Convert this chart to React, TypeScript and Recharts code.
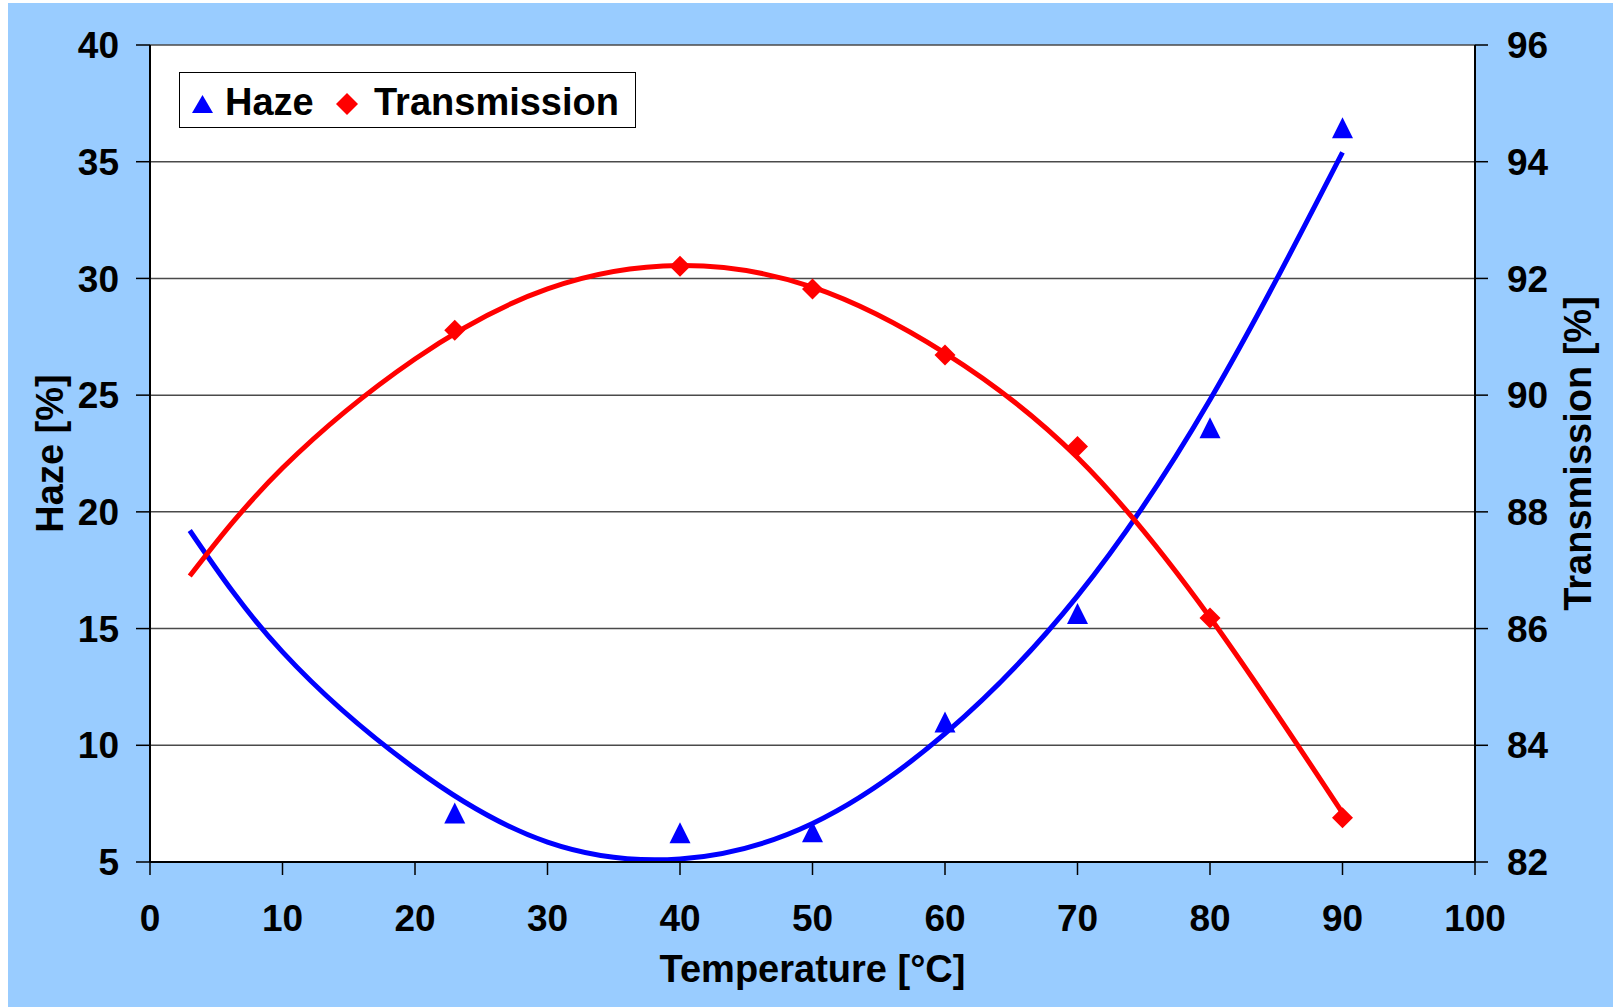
import React from 'react';
import { ComposedChart, Line, Scatter, XAxis, YAxis, CartesianGrid, Legend, Label } from 'recharts';

// measured points
const temperature = [23, 40, 50, 60, 70, 80, 90];
const hazeValues = [7.1, 6.25, 6.3, 11.0, 15.65, 23.6, 36.45];
const transmissionValues = [91.11, 92.21, 91.82, 90.69, 89.12, 86.18, 82.76];

// trend lines
const fitT = [3, 10, 20, 30, 40, 50, 60, 70, 80, 90];
const hazeFit = [19.2, 14.0, 9.0, 5.85, 5.13, 6.65, 10.5, 16.4, 24.8, 35.4];
const transFit = [86.9, 88.75, 90.62, 91.82, 92.22, 91.85, 90.72, 88.93, 86.19, 82.84];

const xTicks = [0, 10, 20, 30, 40, 50, 60, 70, 80, 90, 100];
const hazeTicks = [5, 10, 15, 20, 25, 30, 35, 40];
const transTicks = [82, 84, 86, 88, 90, 92, 94, 96];

const FONT = '"Liberation Sans", Arial, sans-serif';
const BLUE = '#0000FF';
const RED = '#FF0000';

const hazePoints = temperature.map((t, i) => ({ t, haze: hazeValues[i] }));
const transPoints = temperature.map((t, i) => ({ t, trans: transmissionValues[i] }));
const hazeLine = fitT.map((t, i) => ({ t, haze: hazeFit[i] }));
const transLine = fitT.map((t, i) => ({ t, trans: transFit[i] }));

const Triangle = (props: any) => {
    const { cx, cy } = props;
    if (cx == null || cy == null) return null;
    return (
        <polygon
            points={`${cx},${cy - 10.5} ${cx + 10.5},${cy + 10.5} ${cx - 10.5},${cy + 10.5}`}
            fill={BLUE}
        />
    );
};

const Diamond = (props: any) => {
    const { cx, cy } = props;
    if (cx == null || cy == null) return null;
    return (
        <polygon
            points={`${cx},${cy - 10.5} ${cx + 10.5},${cy} ${cx},${cy + 10.5} ${cx - 10.5},${cy}`}
            fill={RED}
        />
    );
};

const LegendBox = () => (
    <svg width={457} height={56} style={{ display: 'block' }}>
        <rect x={0.5} y={0.5} width={456} height={55} fill="#fff" stroke="#000" strokeWidth={1} />
        <polygon points="23.5,23 34,41 13,41" fill={BLUE} />
        <text x={46} y={43} fontFamily={FONT} fontWeight={700} fontSize={38} fill="#000">Haze</text>
        <polygon points="168,21 179,32 168,43 157,32" fill={RED} />
        <text x={195} y={43} fontFamily={FONT} fontWeight={700} fontSize={38} fill="#000">Transmission</text>
    </svg>
);

const tickStyle = { fill: '#000', fontSize: 37, fontWeight: 700, fontFamily: FONT };
const titleStyle = { fill: '#000', fontSize: 38, fontWeight: 700, fontFamily: FONT, textAnchor: 'middle' as const };

export default function App() {
    return (
        <div style={{ position: 'absolute', left: 0, top: 0, width: 1613, height: 1007, background: '#fff' }}>
            <div style={{ position: 'absolute', left: 8, top: 3, width: 1605, height: 1004, background: '#99CCFF' }}>
                <ComposedChart
                    width={1605}
                    height={1004}
                    margin={{ top: 42, right: 0, bottom: 85, left: 0 }}
                >
                    <CartesianGrid
                        yAxisId="haze"
                        vertical={false}
                        stroke="#4a4a4a"
                        strokeWidth={1.5}
                        fill="#fff"
                    />
                    <XAxis
                        dataKey="t"
                        type="number"
                        domain={[0, 100]}
                        ticks={xTicks}
                        height={60}
                        tickSize={13}
                        tickMargin={30}
                        tick={tickStyle}
                        axisLine={{ stroke: '#000', strokeWidth: 2 }}
                        tickLine={{ stroke: '#000', strokeWidth: 1.5 }}
                    >
                        <Label value="Temperature [°C]" position="bottom" offset={33} style={titleStyle} />
                    </XAxis>
                    <YAxis
                        yAxisId="haze"
                        orientation="left"
                        type="number"
                        domain={[5, 40]}
                        ticks={hazeTicks}
                        width={142}
                        tickSize={14}
                        tickMargin={17}
                        tick={tickStyle}
                        axisLine={{ stroke: '#000', strokeWidth: 2 }}
                        tickLine={{ stroke: '#000', strokeWidth: 1.5 }}
                    >
                        <Label value="Haze [%]" angle={-90} position="insideLeft" offset={42} style={titleStyle} />
                    </YAxis>
                    <YAxis
                        yAxisId="trans"
                        orientation="right"
                        type="number"
                        domain={[82, 96]}
                        ticks={transTicks}
                        width={138}
                        tickSize={13}
                        tickMargin={19}
                        tick={tickStyle}
                        axisLine={{ stroke: '#000', strokeWidth: 2 }}
                        tickLine={{ stroke: '#000', strokeWidth: 1.5 }}
                    >
                        <Label value="Transmission [%]" angle={-90} position="insideRight" offset={35} style={titleStyle} />
                    </YAxis>
                    <Legend
                        layout="horizontal"
                        verticalAlign="middle"
                        align="center"
                        content={() => <LegendBox />}
                        wrapperStyle={{ left: 171, top: 69, width: 457, height: 56 }}
                    />
                    <Scatter
                        name="Haze"
                        data={hazePoints}
                        dataKey="haze"
                        yAxisId="haze"
                        fill={BLUE}
                        shape={<Triangle />}
                        isAnimationActive={false}
                    />
                    <Scatter
                        name="Transmission"
                        data={transPoints}
                        dataKey="trans"
                        yAxisId="trans"
                        fill={RED}
                        shape={<Diamond />}
                        isAnimationActive={false}
                    />
                    <Line
                        data={hazeLine}
                        dataKey="haze"
                        yAxisId="haze"
                        type="natural"
                        stroke={BLUE}
                        strokeWidth={5}
                        dot={false}
                        activeDot={false}
                        legendType="none"
                        isAnimationActive={false}
                    />
                    <Line
                        data={transLine}
                        dataKey="trans"
                        yAxisId="trans"
                        type="natural"
                        stroke={RED}
                        strokeWidth={5}
                        dot={false}
                        activeDot={false}
                        legendType="none"
                        isAnimationActive={false}
                    />
                </ComposedChart>
            </div>
        </div>
    );
}
